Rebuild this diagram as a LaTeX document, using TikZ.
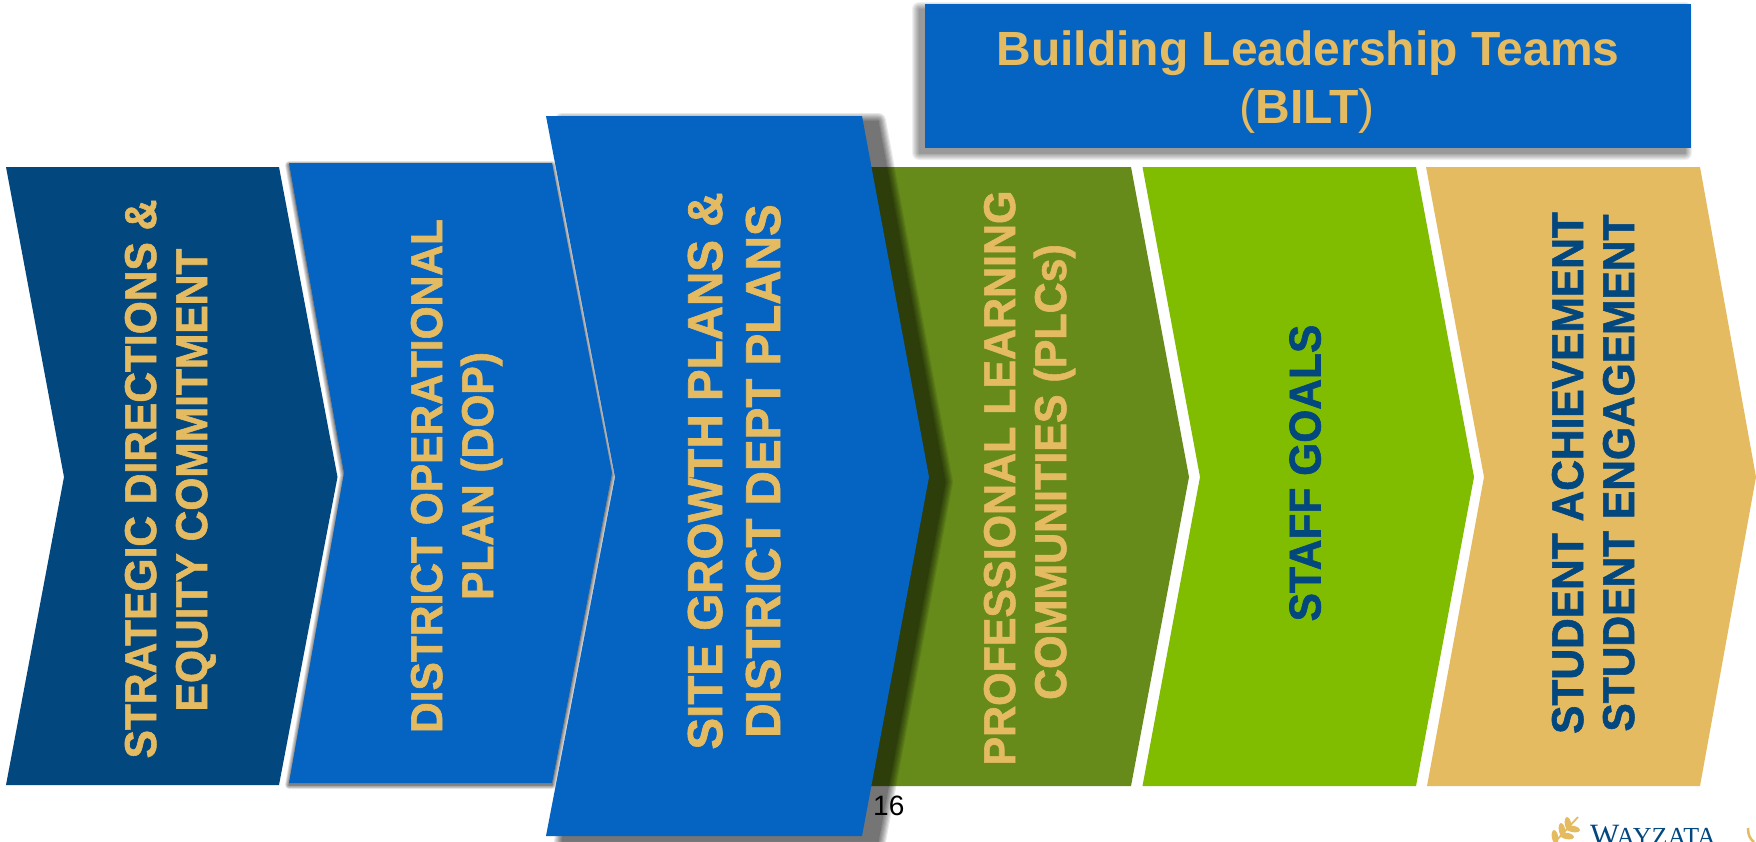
\documentclass[tikz,border=0pt]{standalone}
\usepackage{fontspec}
\setmainfont{Liberation Sans}
\newfontfamily\logofont{Liberation Serif}
\definecolor{navyc}{HTML}{03477F}
\definecolor{bluec}{HTML}{0563C1}
\definecolor{goldc}{HTML}{E5BB62}
\definecolor{olivec}{HTML}{668B1B}
\definecolor{greenc}{HTML}{80BC00}
% path, dx, dy, outward blur (px), layer opacity
\newcommand{\softshadow}[5]{%
  \foreach \k in {0,...,7}{%
    \pgfmathsetmacro{\w}{2*#4*(1-\k/7)}%
    \begin{scope}[transparency group,opacity=#5]
    \fill[black,draw=black,line width=\w pt,line join=round,shift={(#2,#3)}] #1;
    \end{scope}}}
\newcommand{\lbl}[2][.955]{\scalebox{#1}[1]{#2}}
\tikzset{
  lab/.style={rotate=90,font=\bfseries\fontsize{#1}{#1}\selectfont\addfontfeature{FakeBold=1.4},inner sep=0pt,anchor=base},
  lab/.default=44.5,
  goldtxt/.style={text=goldc},
  navytxt/.style={text=navyc},
}
\begin{document}
\begin{tikzpicture}[x=1pt,y=-1pt]
\useasboundingbox (0,0) rectangle (1756,841);
\fill[white] (0,0) rectangle (1756,841);
% chevrons
\fill[navyc] (6,167)--(279,167)--(337.5,477)--(279,785)--(6,785)--(64,477)--cycle;
\softshadow{(289,163)--(552,163)--(612,473)--(552,783)--(289,783)--(344,473)--cycle}{0}{2}{4}{.08}
\fill[bluec] (289,163)--(552,163)--(612,473)--(552,783)--(289,783)--(344,473)--cycle;
\fill[olivec] (860,167)--(1131,167)--(1189,477)--(1131,786)--(860,786)--(920,477)--cycle;
\fill[greenc] (1142.5,167)--(1416,167)--(1474,477)--(1416,786)--(1142.5,786)--(1200,477)--cycle;
\fill[goldc] (1426,167)--(1700,167)--(1756,477)--(1700,786)--(1427,786)--(1484,477)--cycle;
\softshadow{(546,116)--(862,116)--(929,477)--(862,836)--(546,836)--(615,477)--cycle}{16}{5}{8}{.09}
\fill[bluec] (546,116)--(862,116)--(929,477)--(862,836)--(546,836)--(615,477)--cycle;
\softshadow{(925,4)--(1691,4)--(1691,148)--(925,148)--cycle}{-6}{5}{7}{.06}
\fill[bluec] (925,4) rectangle (1691,148);
% texts
\node[lab,goldtxt] (t1a) at (156,479) {\lbl{STRATEGIC DIRECTIONS \&}};
\node[lab,goldtxt] (t1b) at (207,480) {\lbl{EQUITY COMMITMENT}};
\node[lab,goldtxt] (t2a) at (442,476) {\lbl{DISTRICT OPERATIONAL}};
\node[lab,goldtxt] (t2b) at (493,476) {\lbl{PLAN (DOP)}};
\node[lab=49,goldtxt] (t3a) at (722,471) {\lbl[.97]{SITE GROWTH PLANS \&}};
\node[lab=49,goldtxt] (t3b) at (780,471) {\lbl[.97]{DISTRICT DEPT PLANS}};
\node[lab,goldtxt] (t4a) at (1015,478) {\lbl[.965]{PROFESSIONAL LEARNING}};
\node[lab,goldtxt] (t4b) at (1066,472) {\lbl[.965]{COMMUNITIES (PLCs)}};
\node[lab,navytxt] (t5) at (1320.5,473) {\lbl{STAFF GOALS}};
\node[lab,navytxt] (t6a) at (1583,473) {\lbl{STUDENT ACHIEVEMENT}};
\node[lab,navytxt] (t6b) at (1634,473) {\lbl{STUDENT ENGAGEMENT}};
\node[font=\bfseries\fontsize{48}{48}\selectfont,text=goldc,inner sep=0pt,anchor=base] (b1) at (1308,65) {Building Leadership Teams};
\node[font=\bfseries\fontsize{48}{48}\selectfont,text=goldc,inner sep=0pt,anchor=base] (b2) at (1307,123) {{\mdseries(}BILT{\mdseries)}};
\node[font=\fontsize{28}{28}\selectfont,inner sep=0pt,anchor=base west] (num) at (873,815) {16};
% logo
\begin{scope}
\clip (0,0) rectangle (1756,841);
\node[font=\logofont\fontsize{31}{31}\selectfont,text=navyc,inner sep=0pt,anchor=base west] (logo) at (1590,845) {W\kern-3pt\fontsize{26}{26}\selectfont AYZATA};
\draw[goldc,line width=1.8pt] (1554,843)--(1578,817);
\fill[goldc] (1562,830) ellipse[x radius=7,y radius=3.2,rotate=-80];
\fill[goldc] (1568,824) ellipse[x radius=7,y radius=3.2,rotate=-80];
\fill[goldc] (1555,837) ellipse[x radius=7,y radius=3.2,rotate=-80];
\fill[goldc] (1567,836) ellipse[x radius=7,y radius=3.2,rotate=-10];
\fill[goldc] (1573,829) ellipse[x radius=7,y radius=3.2,rotate=-10];
\draw[goldc,line width=2.5pt] (1748,828) .. controls (1748,835) and (1750,839) .. (1754,842);
\end{scope}
\end{tikzpicture}
\end{document}
